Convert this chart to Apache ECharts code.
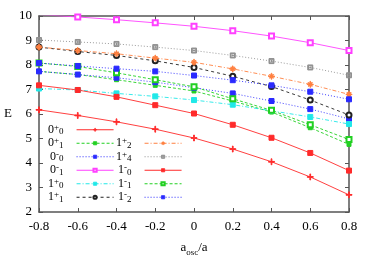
<!DOCTYPE html>
<html>
<head>
<meta charset="utf-8">
<script src="https://cdn.jsdelivr.net/npm/echarts@6/dist/echarts.min.js"></script>
<style>
  html, body { margin: 0; padding: 0; background: #fff; }
  #chart { width: 374px; height: 262px; }
</style>
</head>
<body>
<div id="chart"></div>
<script>
  // x 轴：a_osc/a
  const xs = [-0.8, -0.6, -0.4, -0.2, 0, 0.2, 0.4, 0.6, 0.8];

  // 各能级 E
  const e0p0 = [6.17, 5.94, 5.68, 5.38, 5.02, 4.57, 4.05, 3.43, 2.70];
  const e0p1 = [7.74, 7.61, 7.40, 7.17, 6.94, 6.53, 6.08, 5.44, 4.76];
  const e0m0 = [7.74, 7.61, 7.48, 7.30, 7.07, 6.84, 6.53, 6.20, 5.80];
  const e0m1 = [10.06, 9.96, 9.85, 9.72, 9.58, 9.40, 9.18, 8.91, 8.59];
  const e1p0 = [7.04, 6.98, 6.84, 6.72, 6.57, 6.38, 6.13, 5.88, 5.59];
  const e1p1 = [8.73, 8.55, 8.39, 8.17, 7.90, 7.54, 7.12, 6.57, 5.96];
  const e1p2 = [8.73, 8.59, 8.46, 8.28, 8.11, 7.84, 7.54, 7.21, 6.80];
  const e1p4 = [9.02, 8.94, 8.86, 8.73, 8.59, 8.39, 8.16, 7.90, 7.58];
  const e1m0 = [7.17, 6.98, 6.70, 6.36, 6.02, 5.56, 5.03, 4.41, 3.69];
  const e1m1 = [8.08, 7.94, 7.68, 7.40, 7.11, 6.62, 6.15, 5.56, 4.96];
  const e1m2 = [8.08, 7.96, 7.85, 7.74, 7.57, 7.38, 7.17, 6.91, 6.60];

  const legendCol1 = ['0+0', '0+1', '0-0', '0-1', '1+0', '1+1'];
  const legendCol2 = ['1+2', '1+4', '1-0', '1-1', '1-2'];

  const FONT = 'Liberation Serif';
  const AXIS = '#555';

  const plusPath = 'path://M4.4,0H5.6V4.4H10V5.6H5.6V10H4.4V5.6H0V4.4H4.4Z';
  const starPath = 'path://M4.5,0H5.5V4.5H10V5.5H5.5V10H4.5V5.5H0V4.5H4.5ZM1.5,2.2L2.2,1.5L8.5,7.8L7.8,8.5ZM7.8,1.5L8.5,2.2L2.2,8.5L1.5,7.8Z';
  const boxPath = 'path://M0,0H10V10H0ZM1.5,1.5V8.5H8.5V1.5ZM4,4H6V6H4Z';

  function mk(name, ys, color, dash, symbol, size) {
    return {
      name: name,
      type: 'line',
      data: xs.map((x, i) => [x, ys[i]]),
      symbol: symbol,
      symbolSize: size,
      showAllSymbol: true,
      clip: true,
      lineStyle: {color: color, width: 0.9, type: dash},
      itemStyle: {color: color, borderColor: color, borderWidth: 1},
      emphasis: {disabled: true},
      z: 3
    };
  }

  const series = [
    mk('0+0', e0p0, '#ff2a2a', 'solid', plusPath, 6),
    mk('0+1', e0p1, '#22d022', [3, 2], 'rect', 4),
    mk('0-0', e0m0, '#2a2aff', [1, 2], 'rect', 5),
    mk('0-1', e0m1, '#ff40ff', 'solid', 'emptyRect', 5),
    mk('1+0', e1p0, '#20e8e8', [4, 2, 1, 2], 'rect', 5),
    mk('1+1', e1p1, '#222222', [3, 3], 'emptyCircle', 5),
    mk('1+2', e1p2, '#ff8040', [4, 2, 1, 2], starPath, 6),
    mk('1+4', e1p4, '#909090', [1, 2], boxPath, 5),
    mk('1-0', e1m0, '#ff2a2a', 'solid', 'rect', 5),
    mk('1-1', e1m1, '#22d022', [3, 2], 'emptyRect', 5),
    mk('1-2', e1m2, '#2a2aff', [1, 2], 'rect', 5)
  ];

  function legendLabel(name) {
    return '{m|' + name[0] + '}{p|' + name[1] + '}{b|' + name[2] + '}';
  }

  const legendText = {
    fontFamily: FONT,
    color: '#000',
    padding: [0, 8, 0, 0],
    rich: {
      m: {fontFamily: FONT, fontSize: 12, lineHeight: 13.5, color: '#000', verticalAlign: 'middle'},
      p: {fontFamily: FONT, fontSize: 9, lineHeight: 13.5, color: '#000', verticalAlign: 'top'},
      b: {fontFamily: FONT, fontSize: 9, lineHeight: 13.5, color: '#000', verticalAlign: 'bottom'}
    }
  };

  function mkLegend(data, left, top) {
    return {
      data: data,
      orient: 'vertical',
      left: left,
      top: top,
      align: 'right',
      itemWidth: 37,
      itemHeight: 4,
      itemGap: 0,
      padding: 0,
      selectedMode: false,
      formatter: legendLabel,
      lineStyle: {width: 1},
      itemStyle: {borderWidth: 0.8},
      textStyle: legendText
    };
  }

  const chart = echarts.init(document.getElementById('chart'));
  chart.setOption({
    animation: false,
    backgroundColor: '#fff',
    grid: {left: 39, right: 25, top: 16, bottom: 48},
    legend: [
      mkLegend(legendCol1, 48, 123),
      mkLegend(legendCol2, 116, 136.5)
    ],
    xAxis: [{
      type: 'value',
      min: -0.8,
      max: 0.8,
      interval: 0.2,
      position: 'bottom',
      axisLine: {onZero: false, lineStyle: {color: AXIS, width: 1.5}},
      axisTick: {inside: true, length: 4, lineStyle: {color: AXIS}},
      axisLabel: {fontFamily: FONT, fontSize: 13, color: '#000', margin: 8},
      splitLine: {show: false},
      name: '{m|a}{s|osc}{m|/a}',
      nameLocation: 'middle',
      nameGap: 29,
      nameTextStyle: {
        rich: {
          m: {fontFamily: FONT, fontSize: 13, color: '#000', lineHeight: 16, verticalAlign: 'top'},
          s: {fontFamily: FONT, fontSize: 9, color: '#000', lineHeight: 16, verticalAlign: 'bottom'}
        }
      }
    }, {
      type: 'value',
      min: -0.8,
      max: 0.8,
      interval: 0.2,
      position: 'top',
      axisLine: {onZero: false, lineStyle: {color: AXIS, width: 1.5}},
      axisTick: {inside: true, length: 4, lineStyle: {color: AXIS}},
      axisLabel: {show: false},
      splitLine: {show: false}
    }],
    yAxis: [{
      type: 'value',
      min: 2,
      max: 10,
      interval: 1,
      position: 'left',
      axisLine: {show: true, onZero: false, lineStyle: {color: AXIS, width: 1.5}},
      axisTick: {show: true, inside: true, length: 4, lineStyle: {color: AXIS}},
      axisLabel: {fontFamily: FONT, fontSize: 13, color: '#000', margin: 7},
      splitLine: {show: false},
      name: 'E',
      nameLocation: 'middle',
      nameRotate: 0,
      nameGap: 27,
      nameTextStyle: {fontFamily: FONT, fontSize: 13, color: '#000'}
    }, {
      type: 'value',
      min: 2,
      max: 10,
      interval: 1,
      position: 'right',
      axisLine: {show: true, onZero: false, lineStyle: {color: AXIS, width: 1.5}},
      axisTick: {show: true, inside: true, length: 4, lineStyle: {color: AXIS}},
      axisLabel: {show: false},
      splitLine: {show: false}
    }],
    series: series
  });
</script>
</body>
</html>
